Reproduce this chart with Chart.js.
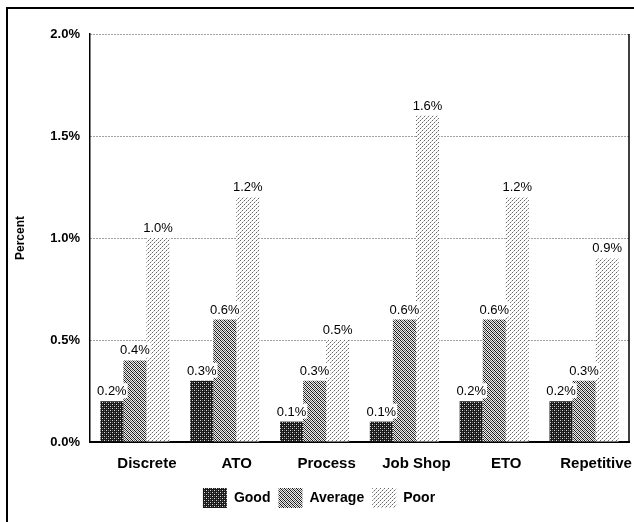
<!DOCTYPE html>
<html>
<head>
<meta charset="utf-8">
<script src="https://cdn.jsdelivr.net/npm/chart.js@4/dist/chart.umd.min.js"></script>
<style>
  html, body { margin: 0; padding: 0; background: #fff; }
  #wrap { position: relative; width: 634px; height: 522px; }
  #frame { position: absolute; left: 6px; top: 7px; width: 640px; height: 530px;
           border-left: 2px solid #000; border-top: 2px solid #000; pointer-events: none; }
</style>
</head>
<body>
<div id="wrap">
  <canvas id="bar-chart" width="634" height="522"></canvas>
  <div id="frame"></div>
</div>
<script>
const categories = ['Discrete', 'ATO', 'Process', 'Job Shop', 'ETO', 'Repetitive'];
const goodValues = [0.2, 0.3, 0.1, 0.1, 0.2, 0.2];
const averageValues = [0.4, 0.6, 0.3, 0.6, 0.6, 0.3];
const poorValues = [1.0, 1.2, 0.5, 1.6, 1.2, 0.9];
const yTicks = [0, 0.5, 1.0, 1.5, 2.0];

// little dither tiles to mimic the printed screens
function makePattern(size, base, dots) {
    const c = document.createElement('canvas');
    c.width = size; c.height = size;
    const g = c.getContext('2d');
    g.fillStyle = base;
    g.fillRect(0, 0, size, size);
    dots.forEach(d => {
        g.fillStyle = d[2];
        g.fillRect(d[0], d[1], 1, 1);
    });
    return g.createPattern(c, 'repeat');
}
const Ctx = document.getElementById('bar-chart').getContext('2d');
const goodFill = makePattern(4, '#1a1a1a', [[0, 0, '#ddd'], [2, 2, '#ddd'], [2, 0, '#666'], [0, 2, '#666']]);
const avgDots = [];
for (let x = 0; x < 4; x++) {
    for (let y = 0; y < 4; y++) {
        if ((x - y + 4) % 4 === 0) avgDots.push([x, y, '#111']);
        else if ((x + y) % 2 === 0) avgDots.push([x, y, '#666']);
    }
}
const averageFill = makePattern(4, '#eeeeee', avgDots);
const poorFill = makePattern(4, '#ffffff', [[0, 0, '#666'], [2, 2, '#666'], [1, 3, '#bbb'], [3, 1, '#bbb']]);

const valueLabels = {
    id: 'valueLabels',
    afterDatasetsDraw(chart) {
        const ctx = chart.ctx;
        ctx.save();
        ctx.font = '13px "Liberation Sans", Arial, sans-serif';
        ctx.textAlign = 'center';
        ctx.textBaseline = 'bottom';
        chart.data.datasets.forEach((ds, i) => {
            chart.getDatasetMeta(i).data.forEach((bar, j) => {
                const txt = ds.data[j].toFixed(1) + '%';
                const w = ctx.measureText(txt).width;
                ctx.fillStyle = '#fff';
                ctx.fillRect(bar.x - w / 2 - 1, bar.y - 18, w + 2, 15);
                ctx.fillStyle = '#000';
                ctx.fillText(txt, bar.x, bar.y - 3);
            });
        });
        ctx.restore();
    }
};

const rightBorder = {
    id: 'rightBorder',
    afterDraw(chart) {
        const a = chart.chartArea;
        const ctx = chart.ctx;
        ctx.save();
        ctx.strokeStyle = '#000';
        ctx.lineWidth = 1.5;
        ctx.beginPath();
        ctx.moveTo(a.right, a.top);
        ctx.lineTo(a.right, a.bottom);
        ctx.stroke();
        ctx.restore();
    }
};

const barchart = new Chart(Ctx, {
    type: 'bar',
    data: {
        labels: categories,
        datasets: [
            { label: 'Good', data: goodValues, backgroundColor: goodFill, borderWidth: 0 },
            { label: 'Average', data: averageValues, backgroundColor: averageFill, borderWidth: 0 },
            { label: 'Poor', data: poorValues, backgroundColor: poorFill, borderWidth: 0 }
        ]
    },
    options: {
        responsive: false,
        animation: false,
        layout: { padding: { left: 9, right: 5, top: 34, bottom: 4 } },
        datasets: { bar: { categoryPercentage: 0.77, barPercentage: 1.0 } },
        plugins: {
            tooltip: { enabled: false },
            legend: {
                position: 'bottom',
                labels: {
                    boxWidth: 24,
                    boxHeight: 20,
                    padding: 8,
                    color: '#000',
                    font: { family: '"Liberation Sans", Arial, sans-serif', size: 14, weight: 'bold' }
                }
            }
        },
        scales: {
            x: {
                grid: { display: false, drawTicks: false },
                border: { display: true, color: '#000', width: 2 },
                ticks: {
                    color: '#000',
                    padding: 13,
                    labelOffset: 12,
                    maxRotation: 0,
                    font: { family: '"Liberation Sans", Arial, sans-serif', size: 15, weight: 'bold' }
                },
                afterFit: s => { s.height = 38; }
            },
            y: {
                min: 0,
                max: 2,
                afterBuildTicks: s => { s.ticks = yTicks.map(v => ({ value: v })); },
                grid: { color: '#444', lineWidth: 1, drawTicks: false },
                border: { display: true, color: '#000', width: 1.5, dash: [1, 2] },
                ticks: {
                    color: '#000',
                    padding: 10,
                    font: { family: '"Liberation Sans", Arial, sans-serif', size: 13, weight: 'bold' },
                    callback: v => v.toFixed(1) + '%'
                },
                title: {
                    display: true,
                    text: 'Percent',
                    color: '#000',
                    font: { family: '"Liberation Sans", Arial, sans-serif', size: 12, weight: 'bold' }
                },
                afterFit: s => { s.width = 81; }
            }
        }
    },
    plugins: [valueLabels, rightBorder]
});
</script>
</body>
</html>
